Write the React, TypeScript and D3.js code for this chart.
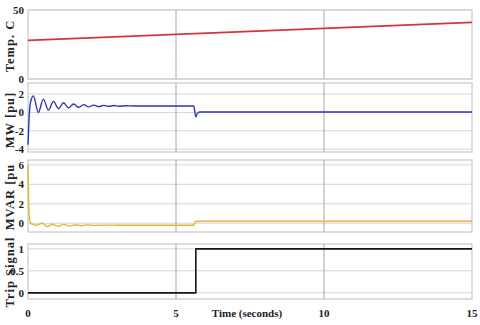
import React from "react";
import * as d3 from "d3";

// ---- data ----
const tempTime = [0, 15];
const tempValues = [28, 41];

const mwTime = [0, 0.03, 0.08, 0.18, 0.35, 0.52, 0.69, 0.86, 1.03, 1.2, 1.37, 1.54, 1.71, 1.88, 2.05, 2.22, 2.39, 2.56, 2.73, 2.9, 3.07, 3.3, 3.6, 5.6, 5.67, 5.72, 5.8, 15];
const mwValues = [-3.5, -1.0, 1.0, 1.8, 0.0, 1.45, 0.25, 1.2, 0.4, 1.05, 0.5, 0.92, 0.55, 0.85, 0.6, 0.8, 0.63, 0.77, 0.66, 0.75, 0.68, 0.72, 0.7, 0.7, -0.5, -0.1, 0.05, 0.05];

const mvarTime = [0, 0.02, 0.06, 0.12, 0.3, 0.48, 0.65, 0.82, 1.0, 1.2, 1.4, 1.6, 1.8, 2.0, 2.3, 2.6, 3.0, 5.6, 5.67, 15];
const mvarValues = [6.0, 2.5, 0.3, -0.1, -0.2, 0.0, -0.35, -0.1, -0.3, -0.12, -0.28, -0.15, -0.25, -0.17, -0.22, -0.19, -0.2, -0.2, 0.2, 0.2];

const tripTime = [0, 5.67, 5.67, 15];
const tripValues = [0, 0, 1, 1];

const xTicks = [0, 5, 10, 15];
const xTickLabels = ["0", "5", "10", "15"];

const panelTitles = ["Temp. C", "MW [pu]", "MVAR [pu", "Trip Signal"];
const panelYTicks = [[0, 50], [-4, -2, 0, 2], [0, 2, 4, 6], [0, 0.5, 1]];
const panelYTickLabels = [["0", "50"], ["-4", "-2", "0", "2"], ["0", "2", "4", "6"], ["0", "0.5", "1"]];

// ---- layout ----
const W = 480, H = 325;
const X0 = 28, X1 = 472;
const panels = [
  { top: 10, bottom: 79, domain: [0, 50], color: "#d2353a", t: tempTime, v: tempValues, sw: 1.6, titleY: 46, smooth: true },
  { top: 83, bottom: 152, domain: [-4.3, 3.2], color: "#2b36b0", t: mwTime, v: mwValues, sw: 1.4, titleY: 120, smooth: true },
  { top: 160, bottom: 232, domain: [-0.9, 6.5], color: "#e8b33a", t: mvarTime, v: mvarValues, sw: 1.4, titleY: 197, smooth: true },
  { top: 244, bottom: 299, domain: [-0.14, 1.11], color: "#151515", t: tripTime, v: tripValues, sw: 1.6, titleY: 272, smooth: false },
];

const font = "'Liberation Serif', 'Times New Roman', serif";

export default function App() {
  const x = d3.scaleLinear().domain([0, 15]).range([X0, X1]);
  return (
    <svg width={W} height={H} style={{ position: "absolute", left: 0, top: 0, background: "#fff" }}>
      {panels.map((p, i) => {
        const y = d3.scaleLinear().domain(p.domain).range([p.bottom, p.top]);
        const line = d3
          .line<number>()
          .x((_, k) => x(p.t[k]))
          .y((d) => y(d))
          .curve(p.smooth ? d3.curveMonotoneX : d3.curveLinear);
        return (
          <g key={i}>
            <rect x={X0} y={p.top} width={X1 - X0} height={p.bottom - p.top} fill="#fff" stroke="#c8c8c8" strokeWidth={1.2} />
            {panelYTicks[i].map((tv, k) => (
              <line key={"h" + k} x1={X0} x2={X1} y1={y(tv)} y2={y(tv)} stroke="#d4d4d4" strokeWidth={1} />
            ))}
            {xTicks.slice(1, 3).map((tv, k) => (
              <line key={"v" + k} x1={x(tv)} x2={x(tv)} y1={p.top} y2={p.bottom} stroke="#a8a8a8" strokeWidth={1} />
            ))}
            <path d={line(p.v) || ""} fill="none" stroke={p.color} strokeWidth={p.sw} strokeLinejoin="round" />
            {panelYTicks[i].map((tv, k) => (
              <text key={"t" + k} x={24} y={y(tv)} dy="0.35em" textAnchor="end" fontFamily={font} fontWeight="bold" fontSize={11} fill="#222">
                {panelYTickLabels[i][k]}
              </text>
            ))}
            <text transform={`translate(10,${p.titleY}) rotate(-90)`} textAnchor="middle" dy="0.35em" fontFamily={font} fontWeight="bold" fontSize={12.5} letterSpacing={1} fill="#222">
              {panelTitles[i]}
            </text>
          </g>
        );
      })}
      {xTicks.map((tv, k) => (
        <text key={"xt" + k} x={x(tv)} y={313} dy="0.35em" textAnchor="middle" fontFamily={font} fontWeight="bold" fontSize={11} fill="#222">
          {xTickLabels[k]}
        </text>
      ))}
      <text x={247} y={313} dy="0.35em" textAnchor="middle" fontFamily={font} fontWeight="bold" fontSize={11} fill="#222">
        Time (seconds)
      </text>
    </svg>
  );
}
